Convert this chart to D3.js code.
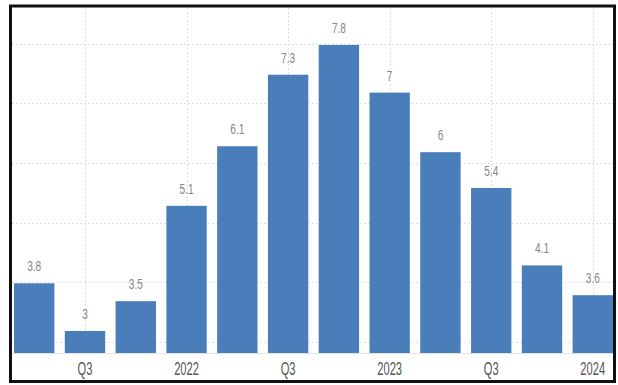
<!DOCTYPE html>
<html>
<head>
<meta charset="utf-8">
<script src="https://cdn.jsdelivr.net/npm/d3@7"></script>
<style>
  html, body { margin: 0; padding: 0; background: #ffffff; }
  svg { display: block; }
</style>
</head>
<body>
<div id="chart"></div>
<script>
// ---- data ----
const categories = ["Q2 2021","Q3 2021","Q4 2021","Q1 2022","Q2 2022","Q3 2022","Q4 2022","Q1 2023","Q2 2023","Q3 2023","Q4 2023","Q1 2024"];
const values = [3.8, 3, 3.5, 5.1, 6.1, 7.3, 7.8, 7, 6, 5.4, 4.1, 3.6];
const tickCategories = ["Q3 2021","Q1 2022","Q3 2022","Q1 2023","Q3 2023","Q1 2024"];
const tickLabels = ["Q3","2022","Q3","2023","Q3","2024"];
const gridValues = [2.82, 3.82, 4.82, 5.82, 6.82, 7.82];

// ---- layout ----
const W = 618, H = 385;
const plot = { left: 12, right: 615, top: 8, bottom: 353 };

const svg = d3.select("#chart").append("svg")
  .attr("width", W).attr("height", H);

svg.append("rect").attr("width", W).attr("height", H).attr("fill", "#ffffff");

const x = d3.scaleBand()
  .domain(categories)
  .range([plot.left, plot.right])
  .paddingInner(0.205)
  .paddingOuter(0.04);

const y = d3.scaleLinear()
  .domain([2.63, 8.42])
  .range([plot.bottom, plot.top]);

// horizontal grid
svg.append("g")
  .selectAll("line")
  .data(gridValues)
  .join("line")
  .attr("x1", plot.left).attr("x2", plot.right - 2)
  .attr("y1", d => Math.round(y(d)) + 0.5)
  .attr("y2", d => Math.round(y(d)) + 0.5)
  .attr("stroke", "#e0e0e0")
  .attr("stroke-width", 1)
  .attr("stroke-dasharray", "2,2");

// vertical grid at ticks
svg.append("g")
  .selectAll("line")
  .data(tickCategories)
  .join("line")
  .attr("x1", d => Math.round(x(d) + x.bandwidth() / 2) + 0.5)
  .attr("x2", d => Math.round(x(d) + x.bandwidth() / 2) + 0.5)
  .attr("y1", plot.top).attr("y2", plot.bottom)
  .attr("stroke", "#e0e0e0")
  .attr("stroke-width", 1)
  .attr("stroke-dasharray", "2,2");

// bars
svg.append("g")
  .selectAll("rect")
  .data(categories)
  .join("rect")
  .attr("x", d => x(d))
  .attr("width", x.bandwidth())
  .attr("y", (d, i) => y(values[i]))
  .attr("height", (d, i) => plot.bottom - y(values[i]))
  .attr("fill", "#4a7ebb");

// baseline
svg.append("line")
  .attr("x1", plot.left).attr("x2", plot.right - 2)
  .attr("y1", plot.bottom + 0.5).attr("y2", plot.bottom + 0.5)
  .attr("stroke", "#e3e3e3").attr("stroke-width", 1);

// value labels
svg.append("g")
  .selectAll("text")
  .data(categories)
  .join("text")
  .attr("transform", (d, i) => `translate(${x(d) + x.bandwidth() / 2},${y(values[i]) - 12}) scale(0.72,1)`)
  .attr("text-anchor", "middle")
  .attr("font-family", "'Liberation Sans', Arial, sans-serif")
  .attr("font-size", 14)
  .attr("fill", "#858585")
  .text((d, i) => values[i]);

// x axis labels
const xAxis = d3.axisBottom(x)
  .tickValues(tickCategories)
  .tickFormat((d) => tickLabels[tickCategories.indexOf(d)])
  .tickSize(0)
  .tickPadding(0);

const gx = svg.append("g")
  .attr("transform", `translate(0,${plot.bottom})`)
  .call(xAxis);
gx.select(".domain").remove();
gx.selectAll("text")
  .attr("y", 0)
  .attr("dy", 0)
  .attr("transform", "translate(0,22) scale(0.62,1)")
  .attr("font-family", "'Liberation Sans', Arial, sans-serif")
  .attr("font-size", 18)
  .attr("fill", "#555555");

// frame
svg.append("rect")
  .attr("x", 10.5).attr("y", 6)
  .attr("width", 604).attr("height", 375.5)
  .attr("fill", "none")
  .attr("stroke", "#111111")
  .attr("stroke-width", 3);
</script>
</body>
</html>
